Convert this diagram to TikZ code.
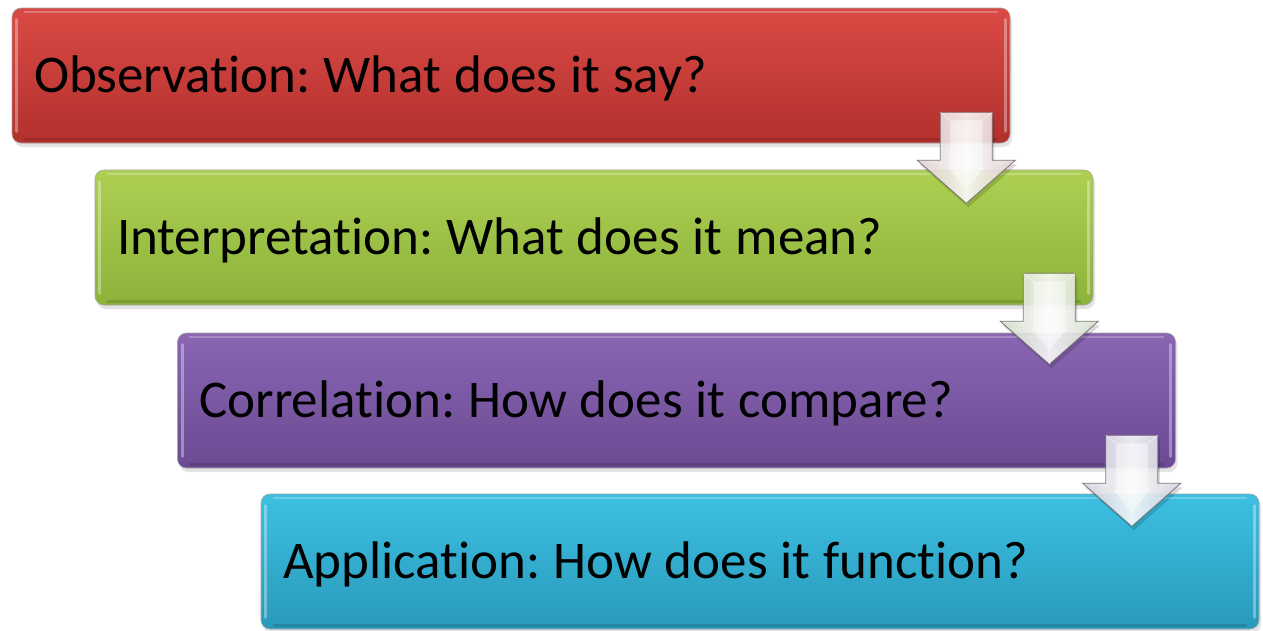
\documentclass[tikz,border=0pt]{standalone}
\usepackage{fontspec}
\setmainfont{Carlito}[Ligatures=CommonOff]
\frenchspacing
\usetikzlibrary{calc,shadows}
\definecolor{redT}{HTML}{DB4A45}
\definecolor{redB}{HTML}{B2302D}
\definecolor{grnT}{HTML}{ADD052}
\definecolor{grnB}{HTML}{8BB23A}
\definecolor{purT}{HTML}{8A66B3}
\definecolor{purB}{HTML}{6B4A92}
\definecolor{bluT}{HTML}{3CC0E2}
\definecolor{bluB}{HTML}{2999BB}
\definecolor{arrEdge}{HTML}{6E6A6A}
\definecolor{tintA}{HTML}{E3CFCF}
\definecolor{tintB}{HTML}{D3DCC8}
\definecolor{tintC}{HTML}{D3D1E0}
\newcommand{\stageFont}{\fontsize{53}{60}\selectfont}
\newcommand{\stageText}[1]{{\spaceskip 13pt\relax #1}}
\tikzset{
  stagebox/.style={rounded corners=9pt, minimum width=998pt, minimum height=135pt,
    text width=954pt, align=left, inner xsep=22pt, inner ysep=0pt,
    text height=34pt, text depth=0pt, font=\stageFont,
    draw=black!35, line width=0.6pt,
    drop shadow={shadow xshift=2pt, shadow yshift=-4pt, opacity=0.22}},
  bevel/.style={line width=3pt, line cap=round, opacity=0.35},
}
\newcommand{\stepArrow}[3]{%
  % #1 = top-centre coordinate name, #2 = tint colour, #3 = name prefix
  \coordinate (#3s1) at ($(#1)+(-26,0)$);
  \coordinate (#3s2) at ($(#1)+(26,0)$);
  \coordinate (#3w1) at ($(#1)+(-26,48)$);
  \coordinate (#3w2) at ($(#1)+(26,48)$);
  \coordinate (#3h1) at ($(#1)+(-49,48)$);
  \coordinate (#3h2) at ($(#1)+(49,48)$);
  \coordinate (#3tip) at ($(#1)+(0,91)$);
  \fill[black, opacity=0.15] ($(#3s1)+(2,4)$) -- ($(#3s2)+(2,4)$) -- ($(#3w2)+(2,4)$) -- ($(#3h2)+(2,4)$) -- ($(#3tip)+(2,4)$) -- ($(#3h1)+(2,4)$) -- ($(#3w1)+(2,4)$) -- cycle;
  \shade[left color=#2, right color=#2, middle color=white, opacity=0.88, draw=arrEdge, line width=0.8pt, line join=miter]
    (#3s1) -- (#3s2) -- (#3w2) -- (#3h2) -- (#3tip) -- (#3h1) -- (#3w1) -- cycle;
  \fill[white, opacity=0.45]
    ($(#3s1)+(10,8)$) -- ($(#3s2)+(-10,8)$) -- ($(#3w2)+(-10,8)$) -- ($(#3h2)+(-30,6)$) -- ($(#3tip)+(0,-14)$) -- ($(#3h1)+(30,6)$) -- ($(#3w1)+(10,8)$) -- cycle;
  \draw[white, opacity=0.6, line width=0.6pt] (#3s1) -- ($(#3s1)+(10,8)$) (#3s2) -- ($(#3s2)+(-10,8)$)
    (#3tip) -- ($(#3tip)+(0,-14)$);
}
\begin{document}
\begin{tikzpicture}[x=1pt,y=-1pt]
\useasboundingbox (0,0) rectangle (1263,630);
\fill[white] (0,0) rectangle (1263,630);

\node[stagebox, top color=redT, bottom color=redB] (b1) at (511,75.5) {\stageText{Observation: What does it say?}};
\node[stagebox, top color=grnT, bottom color=grnB] (b2) at (594,237.5) {\stageText{Interpretation: What does it mean?}};
\node[stagebox, top color=purT, bottom color=purB] (b3) at (676.5,400.5) {\stageText{Correlation: How does it compare?}};
\node[stagebox, top color=bluT, bottom color=bluB] (b4) at (760,561.5) {\stageText{Application: How does it function?}};

% bevel highlights
\foreach \b in {b1, b2, b3, b4}{
  \draw[bevel, white] ($(\b.north west)+(5,12)$) -- ($(\b.south west)+(5,-12)$);
  \draw[bevel, white] ($(\b.north east)+(-5,12)$) -- ($(\b.south east)+(-5,-12)$);
  \draw[white, opacity=0.25, line width=2pt] ($(\b.north west)+(12,4)$) -- ($(\b.north east)+(-12,4)$);
  \draw[black, opacity=0.12, line width=3pt] ($(\b.south west)+(12,-4)$) -- ($(\b.south east)+(-12,-4)$);
}

\coordinate (a1) at ($(b1.south east)+(-44,-31)$);
\coordinate (a2) at ($(b2.south east)+(-44,-32)$);
\coordinate (a3) at ($(b3.south east)+(-44,-33)$);
\stepArrow{a1}{tintA}{p}
\stepArrow{a2}{tintB}{q}
\stepArrow{a3}{tintC}{r}
\end{tikzpicture}
\end{document}
